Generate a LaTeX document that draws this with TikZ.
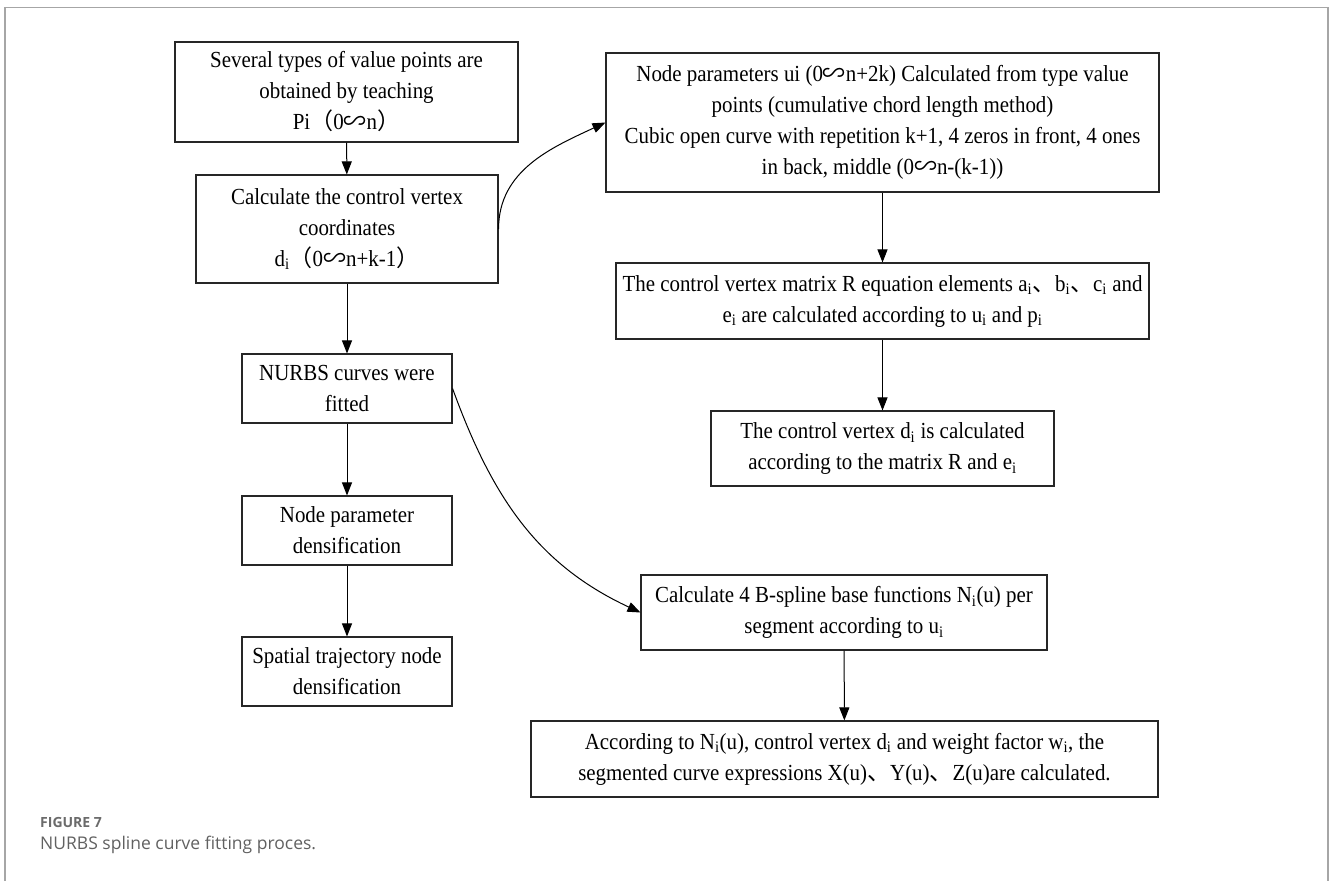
\documentclass[tikz,border=0pt]{standalone}
\usepackage{fontspec}
\setmainfont{Liberation Serif}[FakeStretch=0.91]
\newfontfamily\cjk{Noto Sans CJK SC}
\newfontfamily\capfont{Open Sans}
\usetikzlibrary{arrows.meta}
% small helpers for the CJK punctuation used in the labels
\newcommand{\wave}{{\cjk ∽}}
\newcommand{\lpar}{{\cjk （}}
\newcommand{\rpar}{{\cjk ）}}
\newcommand{\dun}{{\cjk 、}}
\newcommand{\sub}[1]{\textsubscript{#1}}
\begin{document}
\begin{tikzpicture}[x=1pt,y=1pt,
  box/.style={draw=black!85, line width=1.1pt, inner sep=0pt, align=center,
    font=\fontsize{23}{31}\selectfont},
  arr/.style={-{Triangle[length=13pt,width=10pt]}, line width=1pt, black},
  frame/.style={draw=black!35, line width=1.2pt}]
\useasboundingbox (0,0) rectangle (1332,-881);

% outer frame (open at the bottom)
\draw[frame] (5,-881) -- (5,-7.5) -- (1328,-7.5) -- (1328,-881);

% left column
\node[box, minimum width=343pt, minimum height=100pt] (b1) at (346.5,-92)
  {Several types of value points are\\obtained by teaching\\Pi\lpar 0\wave n\rpar};
\node[box, minimum width=302pt, minimum height=108pt] (b2) at (347,-229)
  {Calculate the control vertex\\coordinates\\d\sub{i}\lpar 0\wave n+k-1\rpar};
\node[box, minimum width=210pt, minimum height=69pt] (nurbs) at (347,-388.5)
  {NURBS curves were\\fitted};
\node[box, minimum width=210pt, minimum height=69pt] (np) at (347,-530.5)
  {Node parameter\\densification};
\node[box, minimum width=210pt, minimum height=69pt] (sp) at (347,-671.5)
  {Spatial trajectory node\\densification};

% right column
\node[box, minimum width=553pt, minimum height=139pt] (tr) at (882.5,-122.5)
  {Node parameters ui (0\wave n+2k) Calculated from type value\\points (cumulative chord length method)\\Cubic open curve with repetition k+1, 4 zeros in front, 4 ones\\in back, middle (0\wave n-(k-1))};
\node[box, minimum width=533pt, minimum height=76pt] (rm) at (882.5,-301)
  {The control vertex matrix R equation elements a\sub{i}\dun b\sub{i}\dun c\sub{i} and\\e\sub{i} are calculated according to u\sub{i} and p\sub{i}};
\node[box, minimum width=343pt, minimum height=75pt] (dc) at (882.5,-448.5)
  {The control vertex d\sub{i} is calculated\\according to the matrix R and e\sub{i}};
\node[box, minimum width=406pt, minimum height=75pt] (bs) at (844,-612.5)
  {Calculate 4 B-spline base functions N\sub{i}(u) per\\segment according to u\sub{i}};
\node[box, minimum width=627pt, minimum height=76pt] (bt) at (844.5,-759)
  {According to N\sub{i}(u), control vertex d\sub{i} and weight factor w\sub{i}, the\\segmented curve expressions X(u)\dun Y(u)\dun Z(u)are calculated.};

% straight connectors
\draw[arr] (b1) -- (b2);
\draw[arr] (b2) -- (nurbs);
\draw[arr] (nurbs) -- (np);
\draw[arr] (np) -- (sp);
\draw[arr] (tr) -- (rm);
\draw[arr] (rm) -- (dc);
\draw[arr] (bs) -- (bt);

% curved connectors
\draw[arr] (b2.east) to[out=90, in=205] (tr.west);
\draw[arr] (nurbs.east) to[out=-70, in=155] (bs.west);

% caption
\node[anchor=west, inner sep=0pt, text=black!58, font=\capfont\bfseries\fontsize{14}{16}\selectfont] (fig) at (40,-822) {FIGURE 7};
\node[anchor=west, inner sep=0pt, text=black!62, font=\capfont\fontsize{17.5}{20}\selectfont] (cap) at (40,-845) {NURBS spline curve fitting proces.};
\end{tikzpicture}
\end{document}
